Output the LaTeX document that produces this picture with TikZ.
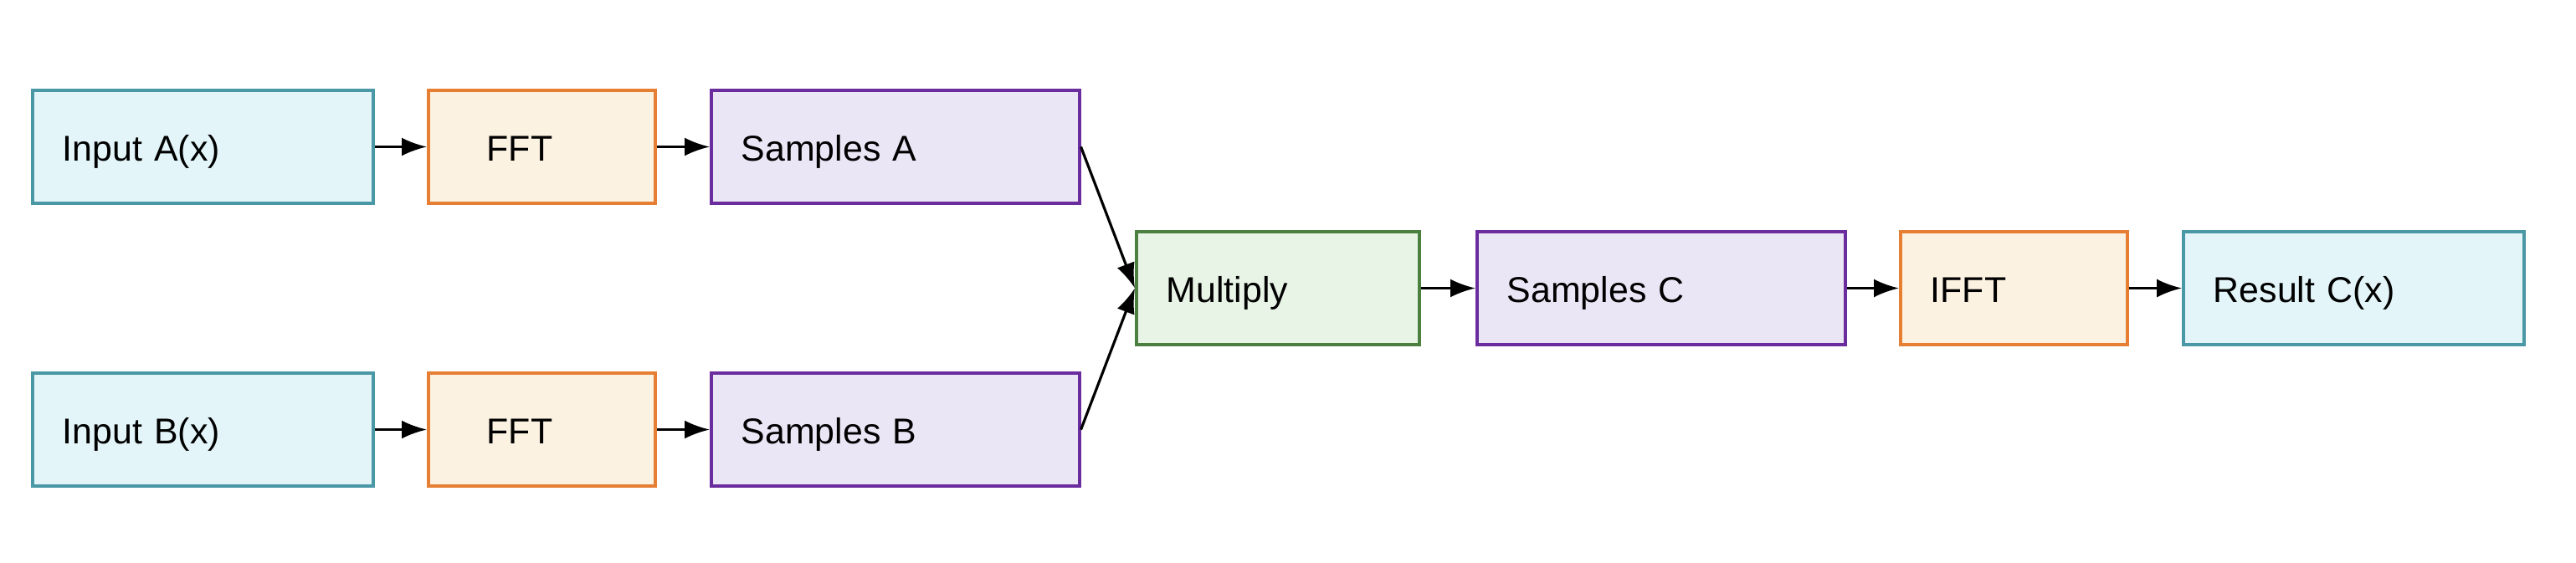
\documentclass[tikz,border=0pt]{standalone}
\usepackage{fontspec}
\setmainfont{Liberation Sans}
\usetikzlibrary{positioning, arrows.meta}
\definecolor{ioline}{HTML}{4A98A6}
\definecolor{iofill}{HTML}{E3F5F9}
\definecolor{fftline}{HTML}{E67E33}
\definecolor{fftfill}{HTML}{FCF2E2}
\definecolor{smpline}{HTML}{6B2C9E}
\definecolor{smpfill}{HTML}{EAE6F5}
\definecolor{mulline}{HTML}{4C8041}
\definecolor{mulfill}{HTML}{E8F4E6}
\tikzset{
  blk/.style={draw, line width=1pt, minimum height=1.35cm, align=left, inner xsep=0.36cm, font=\fontsize{12.2}{14}\selectfont, execute at begin node={\rule[-2.6pt]{0pt}{15pt}}},
  iobox/.style={blk, draw=ioline, fill=iofill, text width=3.35cm},
  fftbox/.style={blk, draw=fftline, fill=fftfill, inner xsep=0.7cm, text width=1.31cm},
  ifftbox/.style={blk, draw=fftline, fill=fftfill, text width=1.99cm},
  smpbox/.style={blk, draw=smpline, fill=smpfill, text width=3.68cm},
  mulbox/.style={blk, draw=mulline, fill=mulfill, text width=2.66cm},
  arr/.style={-{Latex[length=0.3cm,width=0.22cm]}, line width=0.9pt}
}
\begin{document}
\begin{tikzpicture}
    \useasboundingbox (0,0) rectangle (30.78,6.72);
    \node[iobox, anchor=west] (inA) at (0.37,4.965) {Input A(x)};
    \node[fftbox, right=0.625cm of inA] (fftA) {FFT};
    \node[smpbox, right=0.635cm of fftA] (smpA) {Samples A};
    \node[iobox, anchor=west] (inB) at (0.37,1.585) {Input B(x)};
    \node[fftbox, right=0.625cm of inB] (fftB) {FFT};
    \node[smpbox, right=0.635cm of fftB] (smpB) {Samples B};
    \node[mulbox, anchor=west] (mul) at (13.56,3.275) {Multiply};
    \node[smpbox, right=0.655cm of mul] (smpC) {Samples C};
    \node[ifftbox, right=0.625cm of smpC] (ifft) {IFFT};
    \node[iobox, right=0.635cm of ifft] (res) {Result C(x)};
    \draw[arr] (inA) -- (fftA);
    \draw[arr] (fftA) -- (smpA);
    \draw[arr] (inB) -- (fftB);
    \draw[arr] (fftB) -- (smpB);
    \draw[arr] (smpA.east) -- (mul.west);
    \draw[arr] (smpB.east) -- (mul.west);
    \draw[arr] (mul) -- (smpC);
    \draw[arr] (smpC) -- (ifft);
    \draw[arr] (ifft) -- (res);
\end{tikzpicture}
\end{document}
